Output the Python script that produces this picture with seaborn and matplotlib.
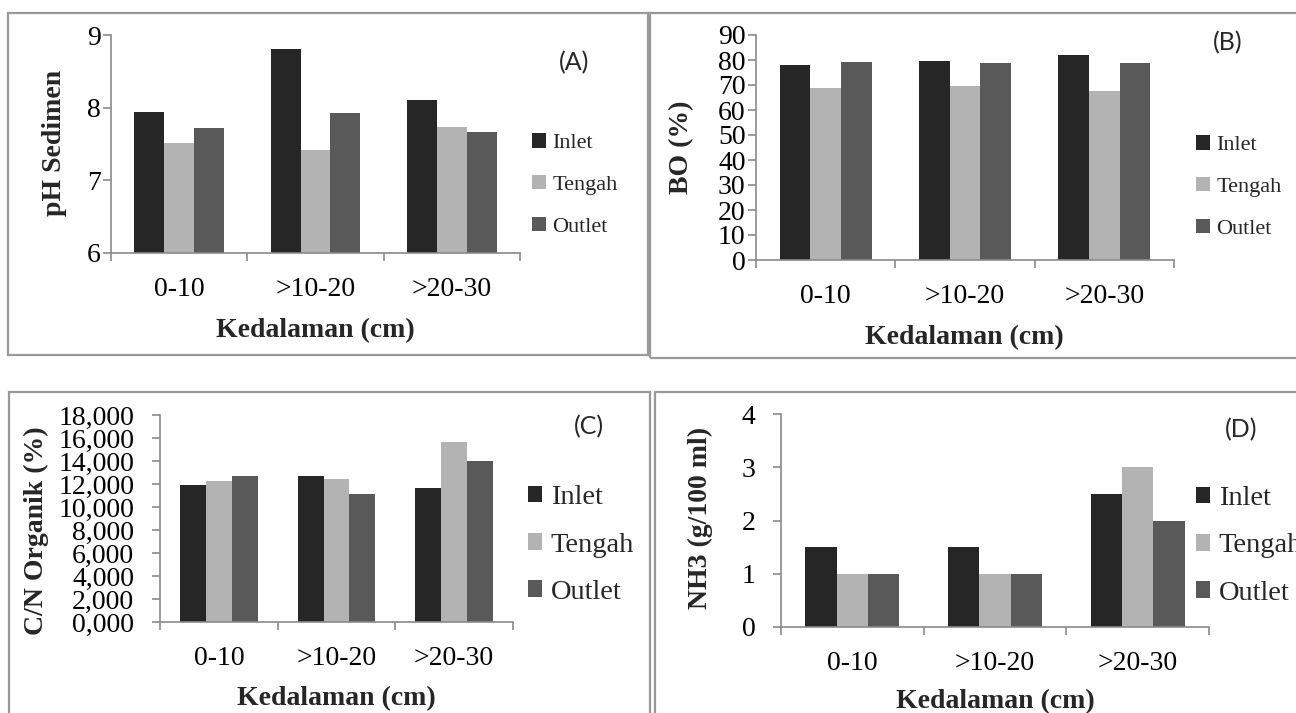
import numpy as np
import pandas as pd
import matplotlib
matplotlib.use("Agg")
import matplotlib.pyplot as plt
import seaborn as sns
from matplotlib.patches import Rectangle
from matplotlib.ticker import FuncFormatter, FixedLocator

# ---------------- data ----------------
depths = ["0-10", ">10-20", ">20-30"]
stations = ["Inlet", "Tengah", "Outlet"]
colors = ["#262626", "#b3b3b3", "#595959"]

ph_inlet = [7.94, 8.81, 8.10]
ph_tengah = [7.52, 7.42, 7.74]
ph_outlet = [7.72, 7.93, 7.66]

bo_inlet = [78.0, 79.8, 82.0]
bo_tengah = [68.7, 69.8, 67.6]
bo_outlet = [79.4, 78.8, 78.8]

cn_inlet = [11.89, 12.68, 11.66]
cn_tengah = [12.24, 12.45, 15.67]
cn_outlet = [12.71, 11.17, 13.99]

nh3_inlet = [1.5, 1.5, 2.5]
nh3_tengah = [1.0, 1.0, 3.0]
nh3_outlet = [1.0, 1.0, 2.0]

ph_ticks = [6, 7, 8, 9]
bo_ticks = list(range(0, 91, 10))
cn_ticks = list(range(0, 19, 2))
nh3_ticks = [0, 1, 2, 3, 4]


def long_df(a, b, c):
    rows = []
    for st, vals in zip(stations, (a, b, c)):
        for d, v in zip(depths, vals):
            rows.append({"Kedalaman": d, "Stasiun": st, "Nilai": v})
    return pd.DataFrame(rows)


sns.set_theme(style="white")
plt.rcParams["font.family"] = ["Liberation Serif", "DejaVu Serif"]

W, H = 1296, 713
fig = plt.figure(figsize=(W / 100, H / 100), dpi=100)
GRAY = "#8a8a8a"
FS = 20


def px_rect(l, t, r, b):
    return [l / W, (H - b) / H, (r - l) / W, (b - t) / H]


def fmt_plain(v, p):
    return f"{v:g}"


def fmt_comma(v, p):
    return f"{v:.3f}".replace(".", ",")


panels = [
    dict(rect=(111, 35, 520, 253), vals=(ph_inlet, ph_tengah, ph_outlet),
         ylim=(6, 9), yticks=ph_ticks, ylabel="pH Sedimen", fmt=fmt_plain,
         ypad=1.5, ylab=(-0.139, 0.505), xlab=(0.5, -0.358), leg=(532, 185),
         legfs=16, legsp=0.97, legh=0.62, tag="(A)", tagpos=(574, 63)),
    dict(rect=(756, 35, 1174, 260), vals=(bo_inlet, bo_tengah, bo_outlet),
         ylim=(0, 90), yticks=bo_ticks, ylabel="BO (%)", fmt=fmt_plain,
         ypad=1.5, ylab=(-0.179, 0.50), xlab=(0.498, -0.346), leg=(1196, 187),
         legfs=16, legsp=0.97, legh=0.62, tag="(B)", tagpos=(1228, 43)),
    dict(rect=(160, 415, 513, 622), vals=(cn_inlet, cn_tengah, cn_outlet),
         ylim=(0, 18), yticks=cn_ticks, ylabel="C/N Organik (%)", fmt=fmt_comma,
         ypad=12.5, ylab=(-0.351, 0.44), xlab=(0.50, -0.369), leg=(528, 545),
         legfs=20.5, legsp=0.78, legh=0.5, tag="(C)", tagpos=(589, 427)),
    dict(rect=(781, 414, 1209, 627), vals=(nh3_inlet, nh3_tengah, nh3_outlet),
         ylim=(0, 4), yticks=nh3_ticks, ylabel="NH3 (g/100 ml)", fmt=fmt_plain,
         ypad=12.5, ylab=(-0.188, 0.51), xlab=(0.50, -0.352), leg=(1196, 546),
         legfs=20.5, legsp=0.78, legh=0.5, tag="(D)", tagpos=(1241, 430)),
]

for p in panels:
    ax = fig.add_axes(px_rect(*p["rect"]))
    df = long_df(*p["vals"])
    sns.barplot(data=df, x="Kedalaman", y="Nilai", hue="Stasiun",
                order=depths, hue_order=stations, palette=colors,
                saturation=1, width=0.66, linewidth=0, edgecolor="none",
                errorbar=None, ax=ax)
    ax.set_xlim(-0.5, 2.5)
    ax.set_ylim(*p["ylim"])
    ax.yaxis.set_major_locator(FixedLocator(p["yticks"]))
    ax.yaxis.set_major_formatter(FuncFormatter(p["fmt"]))
    ax.xaxis.set_minor_locator(FixedLocator([-0.5, 0.5, 1.5, 2.5]))
    for s in ("top", "right"):
        ax.spines[s].set_visible(False)
    for s in ("left", "bottom"):
        ax.spines[s].set_color(GRAY)
        ax.spines[s].set_linewidth(1.2)
    ax.tick_params(axis="y", which="major", direction="out", length=6,
                   width=1.2, color=GRAY, labelsize=FS, pad=p["ypad"],
                   left=True, labelcolor="black")
    ax.tick_params(axis="x", which="major", length=0, labelsize=FS,
                   pad=17.5, labelcolor="black")
    ax.tick_params(axis="x", which="minor", direction="out", length=6,
                   width=1.2, color=GRAY, bottom=True)
    ax.set_xlabel("Kedalaman (cm)", fontsize=FS, fontweight="bold",
                  va="center")
    ax.xaxis.set_label_coords(*p["xlab"])
    ax.set_ylabel(p["ylabel"], fontsize=FS, fontweight="bold", va="center")
    ax.yaxis.set_label_coords(*p["ylab"])
    ax.set_facecolor("white")

    handles, labels = ax.get_legend_handles_labels()
    if ax.get_legend() is not None:
        ax.get_legend().remove()
    lx, ly = p["leg"]
    ax.legend(handles, labels, loc="center left",
              bbox_to_anchor=(lx / W, 1 - ly / H),
              bbox_transform=fig.transFigure, frameon=False,
              fontsize=p["legfs"], labelspacing=p["legsp"],
              handlelength=p["legh"], handleheight=p["legh"],
              handletextpad=0.3, borderpad=0, borderaxespad=0)

    tx, ty = p["tagpos"]
    fig.text(tx / W, 1 - ty / H, p["tag"], fontsize=18,
             family=["Lato", "DejaVu Sans"], ha="center", va="center")

# panel frames
frames = [(8, 13, 648, 355), (650, 13, 1300, 358),
          (9, 392, 650, 720), (655, 392, 1300, 720)]
for l, t, r, b in frames:
    fig.add_artist(Rectangle((l / W, (H - b) / H), (r - l) / W, (b - t) / H,
                             transform=fig.transFigure, fill=False,
                             edgecolor="#999999", linewidth=1.6))

fig.savefig("out.png", dpi=100, facecolor="white")
